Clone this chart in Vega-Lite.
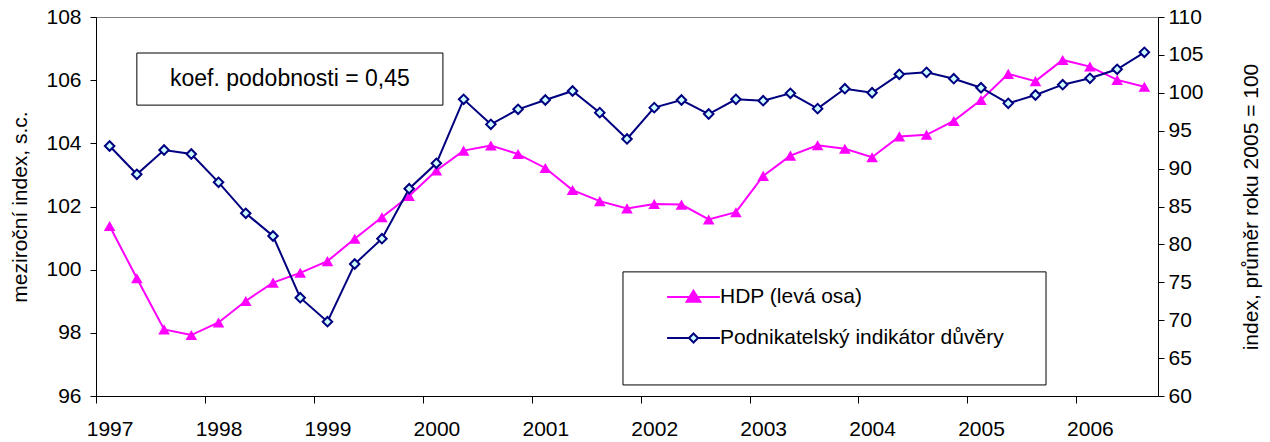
{
  "$schema": "https://vega.github.io/schema/vega-lite/v6.json",
  "width": 1062,
  "height": 379,
  "autosize": {"type": "none"},
  "padding": {"left": 96, "top": 17, "right": 112, "bottom": 46},
  "background": "white",
  "config": {
    "font": "Liberation Sans",
    "view": {"stroke": "#808080", "strokeWidth": 1},
    "axis": {
      "grid": false,
      "labelFont": "Liberation Sans",
      "titleFont": "Liberation Sans",
      "labelFontSize": 21,
      "titleFontSize": 21,
      "titleFontWeight": "normal",
      "labelColor": "#000000",
      "titleColor": "#000000",
      "domainColor": "#000000",
      "tickColor": "#000000",
      "domainWidth": 1,
      "tickWidth": 1,
      "labelOverlap": false,
      "labelFlush": false,
      "labelBound": false
    }
  },
  "data": {
    "values": [
      {"t": 1997.0, "hdp": 101.38, "pid": 92.98},
      {"t": 1997.25, "hdp": 99.73, "pid": 89.25},
      {"t": 1997.5, "hdp": 98.11, "pid": 92.45},
      {"t": 1997.75, "hdp": 97.93, "pid": 91.93},
      {"t": 1998.0, "hdp": 98.33, "pid": 88.19},
      {"t": 1998.25, "hdp": 99.01, "pid": 84.10},
      {"t": 1998.5, "hdp": 99.59, "pid": 81.11},
      {"t": 1998.75, "hdp": 99.90, "pid": 72.97},
      {"t": 1999.0, "hdp": 100.27, "pid": 69.80},
      {"t": 1999.25, "hdp": 100.98, "pid": 77.41},
      {"t": 1999.5, "hdp": 101.66, "pid": 80.75},
      {"t": 1999.75, "hdp": 102.33, "pid": 87.35},
      {"t": 2000.0, "hdp": 103.14, "pid": 90.70},
      {"t": 2000.25, "hdp": 103.77, "pid": 99.14},
      {"t": 2000.5, "hdp": 103.93, "pid": 95.84},
      {"t": 2000.75, "hdp": 103.66, "pid": 97.82},
      {"t": 2001.0, "hdp": 103.22, "pid": 99.05},
      {"t": 2001.25, "hdp": 102.52, "pid": 100.24},
      {"t": 2001.5, "hdp": 102.17, "pid": 97.38},
      {"t": 2001.75, "hdp": 101.94, "pid": 93.91},
      {"t": 2002.0, "hdp": 102.08, "pid": 98.04},
      {"t": 2002.25, "hdp": 102.06, "pid": 99.05},
      {"t": 2002.5, "hdp": 101.59, "pid": 97.20},
      {"t": 2002.75, "hdp": 101.82, "pid": 99.14},
      {"t": 2003.0, "hdp": 102.97, "pid": 98.96},
      {"t": 2003.25, "hdp": 103.61, "pid": 99.93},
      {"t": 2003.5, "hdp": 103.94, "pid": 97.91},
      {"t": 2003.75, "hdp": 103.83, "pid": 100.54},
      {"t": 2004.0, "hdp": 103.56, "pid": 100.01},
      {"t": 2004.25, "hdp": 104.22, "pid": 102.44},
      {"t": 2004.5, "hdp": 104.27, "pid": 102.70},
      {"t": 2004.75, "hdp": 104.71, "pid": 101.86},
      {"t": 2005.0, "hdp": 105.37, "pid": 100.67},
      {"t": 2005.25, "hdp": 106.20, "pid": 98.61},
      {"t": 2005.5, "hdp": 105.97, "pid": 99.71},
      {"t": 2005.75, "hdp": 106.64, "pid": 101.07},
      {"t": 2006.0, "hdp": 106.43, "pid": 101.91},
      {"t": 2006.25, "hdp": 106.01, "pid": 103.10},
      {"t": 2006.5, "hdp": 105.79, "pid": 105.34}
    ]
  },
  "layer": [
    {
      "data": {"values": [{}]},
      "layer": [
        {
          "mark": {"type": "rect", "fill": "white", "stroke": "black", "strokeWidth": 1},
          "encoding": {
            "x": {"datum": 1997.25, "type": "quantitative", "scale": {"domain": [1996.875, 2006.625], "nice": false, "zero": false}},
            "x2": {"datum": 2000.06},
            "y": {"datum": 106.86, "type": "quantitative", "scale": {"domain": [96, 108], "nice": false, "zero": false}, "axis": null},
            "y2": {"datum": 105.21}
          }
        },
        {
          "mark": {"type": "text", "text": "koef. podobnosti = 0,45", "align": "center", "baseline": "middle", "fontSize": 23, "font": "Liberation Sans", "color": "black"},
          "encoding": {
            "x": {"datum": 1998.655, "type": "quantitative"},
            "y": {"datum": 106.03, "type": "quantitative", "axis": null}
          }
        },
        {
          "mark": {"type": "rect", "fill": "white", "stroke": "black", "strokeWidth": 1},
          "encoding": {
            "x": {"datum": 2001.713, "type": "quantitative"},
            "x2": {"datum": 2005.597},
            "y": {"datum": 99.93, "type": "quantitative", "axis": null},
            "y2": {"datum": 96.35}
          }
        }
      ]
    },
    {
      "layer": [
        {
          "mark": {"type": "line", "strokeWidth": 2},
          "encoding": {
            "x": {
              "field": "t", "type": "quantitative",
              "scale": {"domain": [1996.875, 2006.625], "nice": false, "zero": false},
              "axis": {
                "values": [1997, 1998, 1999, 2000, 2001, 2002, 2003, 2004, 2005, 2006],
                "format": "d", "title": null, "tickSize": 7, "labelPadding": 15,
                "tickOffset": -13.615, "labelOffset": 13.615
              }
            },
            "y": {
              "field": "hdp", "type": "quantitative",
              "scale": {"domain": [96, 108], "nice": false, "zero": false},
              "axis": {
                "orient": "left", "values": [96, 98, 100, 102, 104, 106, 108],
                "title": "meziroční index, s.c.", "titlePadding": 15, "tickSize": 6, "labelPadding": 9
              }
            },
            "color": {
              "datum": "HDP (levá osa)", "type": "nominal",
              "scale": {"domain": ["HDP (levá osa)", "Podnikatelský indikátor důvěry"], "range": ["#FF00FF", "#000080"]},
              "legend": {
                "orient": "none", "legendX": 587, "legendY": 269.5, "title": null,
                "labelFontSize": 21, "labelFont": "Liberation Sans", "labelColor": "#000000", "labelLimit": 500,
                "symbolSize": 144, "symbolStrokeWidth": 2, "labelOffset": 16, "rowPadding": 19, "padding": 0,
                "encode": {
                  "symbols": {
                    "update": {
                      "shape": [
                        {"test": "datum.value === 'HDP (levá osa)'", "value": "M-4.4,0H4.4M0,-1.05L1.15,0.8L-1.15,0.8Z"},
                        {"value": "M-4.4,0H-0.75M0.75,0H4.4M0,-0.75L0.75,0L0,0.75L-0.75,0Z"}
                      ],
                      "fill": [
                        {"test": "datum.value === 'HDP (levá osa)'", "value": "#FF00FF"},
                        {"value": "#CCFFFF"}
                      ]
                    }
                  }
                }
              }
            }
          }
        },
        {
          "mark": {"type": "point", "shape": "triangle-up", "filled": true, "size": 135, "color": "#FF00FF", "opacity": 1},
          "encoding": {
            "x": {"field": "t", "type": "quantitative"},
            "y": {
              "field": "hdp", "type": "quantitative",
              "axis": {
                "orient": "left", "values": [96, 98, 100, 102, 104, 106, 108],
                "title": "meziroční index, s.c.", "titlePadding": 15, "tickSize": 6, "labelPadding": 9
              }
            }
          }
        }
      ]
    },
    {
      "layer": [
        {
          "mark": {"type": "line", "strokeWidth": 2},
          "encoding": {
            "x": {"field": "t", "type": "quantitative"},
            "y": {
              "field": "pid", "type": "quantitative",
              "scale": {"domain": [60, 110], "nice": false, "zero": false},
              "axis": {
                "orient": "right", "values": [60, 65, 70, 75, 80, 85, 90, 95, 100, 105, 110],
                "title": "index, průměr roku 2005 = 100", "titleAngle": 270, "titleBaseline": "top",
                "titlePadding": 37, "tickSize": 6, "labelPadding": 4
              }
            },
            "color": {"datum": "Podnikatelský indikátor důvěry", "type": "nominal", "legend": null}
          }
        },
        {
          "mark": {"type": "point", "shape": "diamond", "size": 90, "fill": "#CCFFFF", "stroke": "#000080", "strokeWidth": 2, "opacity": 1, "fillOpacity": 1},
          "encoding": {
            "x": {"field": "t", "type": "quantitative"},
            "y": {
              "field": "pid", "type": "quantitative",
              "axis": {
                "orient": "right", "values": [60, 65, 70, 75, 80, 85, 90, 95, 100, 105, 110],
                "title": "index, průměr roku 2005 = 100", "titleAngle": 270, "titleBaseline": "top",
                "titlePadding": 37, "tickSize": 6, "labelPadding": 4
              }
            }
          }
        }
      ]
    }
  ],
  "resolve": {"scale": {"y": "independent"}}
}
